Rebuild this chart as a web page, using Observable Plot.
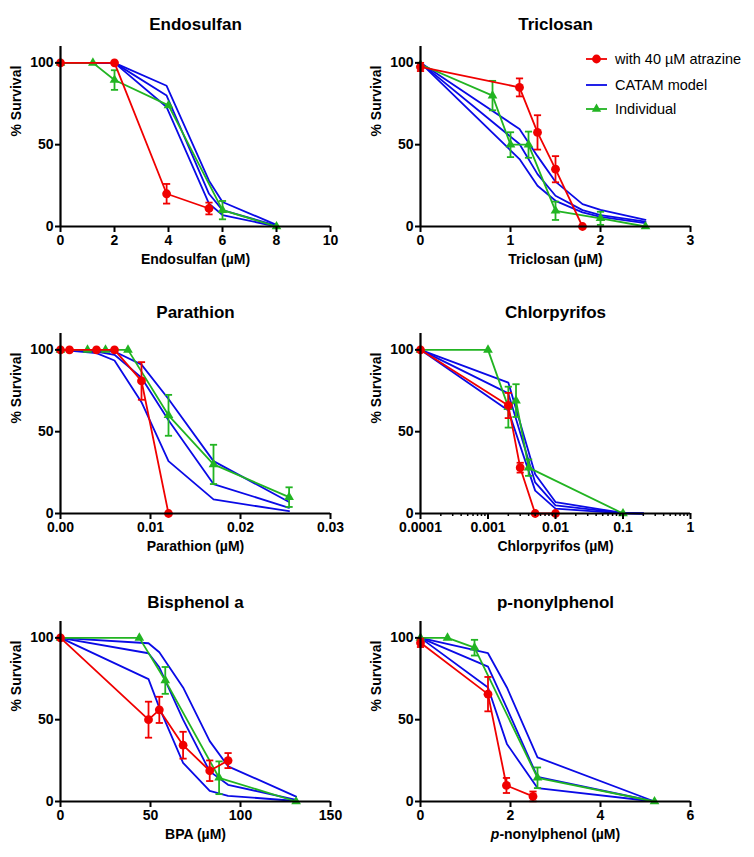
<!DOCTYPE html>
<html><head><meta charset="utf-8">
<script src="https://cdn.jsdelivr.net/npm/d3@7"></script>
<script src="https://cdn.jsdelivr.net/npm/@observablehq/plot@0.6"></script>
<style>
html,body{margin:0;padding:0;background:#fff;overflow:hidden;width:754px;height:857px;}
#root{position:relative;width:754px;height:857px;font-family:"Liberation Sans",Arial,sans-serif;}
.panel{position:absolute;}
</style></head><body><div id="root"></div>
<script>
// ---------- text & axes ----------
const titles = ["Endosulfan", "Triclosan", "Parathion", "Chlorpyrifos", "Bisphenol a", "p-nonylphenol"];
const xLabels = ["Endosulfan (µM)", "Triclosan (µM)", "Parathion (µM)", "Chlorpyrifos (µM)", "BPA (µM)", "p-nonylphenol (µM)"];
const yLabel = "% Survival";
const xDomains = [[0, 10], [0, 3], [0, 0.03], [0.0001, 1], [0, 150], [0, 6]];
const xTicks = [[0, 2, 4, 6, 8, 10], [0, 1, 2, 3], [0, 0.01, 0.02, 0.03], [0.0001, 0.001, 0.01, 0.1, 1], [0, 50, 100, 150], [0, 2, 4, 6]];
const xTickLabels = [["0", "2", "4", "6", "8", "10"], ["0", "1", "2", "3"], ["0.00", "0.01", "0.02", "0.03"], ["0.0001", "0.001", "0.01", "0.1", "1"], ["0", "50", "100", "150"], ["0", "2", "4", "6"]];
const yDomain = [0, 110];
const yTicks = [0, 50, 100];
const legendLabels = ["with 40 µM atrazine", "CATAM model", "Individual"];

// ---------- data: [concentration, % survival, error] ----------
const endosulfanAtrazine = [[0, 100, 0], [2, 100, 0], [3.93, 20, 6], [5.5, 11, 3.6]];
const endosulfanIndividual = [[0, 100, 0], [1.2, 100, 0], [2, 89.5, 6], [4, 74, 0], [6, 10, 5.6], [8, 0, 0]];
const endosulfanModelX = [0, 2, 3.93, 5.5, 6, 8];
const endosulfanModelY = [[100, 100, 86, 28, 15, 1], [100, 100, 80, 20, 10, 0.5], [100, 100, 73, 14, 7, 0]];

const triclosanAtrazine = [[0, 97.5, 2.5], [1.1, 85, 5.5], [1.3, 57.5, 10.5], [1.5, 35, 8], [1.8, 0, 0]];
const triclosanIndividual = [[0, 99, 0], [0.8, 80, 9], [1.0, 50, 7.6], [1.2, 50, 8], [1.5, 9.6, 5.6], [2, 5, 4], [2.5, 0, 0]];
const triclosanModelX = [0, 1.1, 1.3, 1.5, 1.8, 2, 2.5];
const triclosanModelY = [[100, 59.6, 43, 27.4, 13.7, 10.2, 4.1], [100, 50.4, 32, 18.8, 10, 7, 3], [100, 41.2, 24.9, 15.7, 8.6, 5.9, 2]];

const parathionAtrazine = [[0, 100, 0], [0.001, 100, 0], [0.004, 100, 0], [0.006, 100, 0], [0.009, 81, 11.5], [0.012, 0, 0]];
const parathionIndividual = [[0, 100, 0], [0.003, 100, 0], [0.005, 100, 0], [0.0075, 100, 0], [0.012, 60, 12.5], [0.017, 30, 12], [0.0254, 10, 6]];
const parathionModelX = [0, 0.004, 0.006, 0.009, 0.012, 0.017, 0.0254];
const parathionModelY = [[100, 99.5, 99, 91, 70, 32, 7], [100, 99, 97, 83, 57, 18, 3.5], [100, 98, 93.5, 68, 32, 8.6, 1.4]];

const chlorpyrifosAtrazine = [[0.0001, 100, 0], [0.002, 66, 7.7], [0.003, 28, 3], [0.005, 0, 0], [0.01, 0, 0]];
const chlorpyrifosIndividual = [[0.0001, 100, 0], [0.001, 100, 0], [0.002, 65, 12.5], [0.0026, 69, 10], [0.004, 28, 5], [0.1, 0, 0]];
const chlorpyrifosModelX = [0.0001, 0.002, 0.005, 0.01, 0.1, 0.2];
const chlorpyrifosModelY = [[100, 80, 24, 7, 0.3, 0], [100, 73.4, 19, 5, 0.2, 0], [100, 63, 14, 3, 0.1, 0]];

const bpaAtrazine = [[0, 100, 0], [48.9, 50, 11], [54.9, 56, 8], [68.1, 34.4, 8.2], [82.9, 18.8, 6.3], [93.1, 25, 4.6]];
const bpaIndividual = [[0, 100, 0], [43.8, 100, 0], [58.2, 74, 8.2], [88.1, 14.5, 10], [130.9, 0, 0]];
const bpaModelX = [0, 48.9, 54.9, 68.1, 82.9, 93.1, 130.9];
const bpaModelY = [[100, 96.7, 91.2, 69.7, 36.9, 21.5, 3], [100, 90.6, 82, 50, 18.4, 10.2, 1], [100, 74.8, 57.4, 23.6, 6.5, 3.5, 0.3]];

const nonylAtrazine = [[0, 97, 2.6], [1.5, 65.6, 10.5], [1.91, 9.8, 4.6], [2.5, 3.1, 3]];
const nonylIndividual = [[0, 100, 0], [0.6, 100, 0], [1.2, 94, 4.8], [2.6, 14.5, 6.3], [5.2, 0, 0]];
const nonylModelX = [0, 1.5, 1.92, 2.6, 5.2];
const nonylModelY = [[100, 90.6, 69.7, 27, 0], [100, 82.4, 57, 15, 0], [100, 69.7, 35.2, 8.2, 0]];

const atrazineSets = [endosulfanAtrazine, triclosanAtrazine, parathionAtrazine, chlorpyrifosAtrazine, bpaAtrazine, nonylAtrazine];
const individualSets = [endosulfanIndividual, triclosanIndividual, parathionIndividual, chlorpyrifosIndividual, bpaIndividual, nonylIndividual];
const modelXSets = [endosulfanModelX, triclosanModelX, parathionModelX, chlorpyrifosModelX, bpaModelX, nonylModelX];
const modelYSets = [endosulfanModelY, triclosanModelY, parathionModelY, chlorpyrifosModelY, bpaModelY, nonylModelY];

// ---------- styling ----------
const RED = "#f00000", BLUE = "#0a0ae6", GREEN = "#22b422";
const FONT = "Liberation Sans, Arial, Helvetica, sans-serif";
const rowTops = [0, 287, 575];
const titleDy = [-29, -28, -26];
const capSymbol = {draw(ctx) { ctx.moveTo(-3.6, 0); ctx.lineTo(3.6, 0); }};

function errorMarks(rows, color) {
  const withErr = rows.filter(d => d.e > 0);
  const caps = withErr.flatMap(d => [{x: d.x, y: d.y - d.e}, {x: d.x, y: d.y + d.e}]);
  return [
    Plot.link(withErr, {x1: "x", x2: "x", y1: d => d.y - d.e, y2: d => d.y + d.e, stroke: color, strokeWidth: 1.8}),
    Plot.dot(caps, {x: "x", y: "y", symbol: capSymbol, stroke: color, fill: "none", strokeWidth: 1.8})
  ];
}

const root = document.getElementById("root");

for (let i = 0; i < 6; i++) {
  const row = Math.floor(i / 2), col = i % 2;
  const isLog = i === 3;
  const red = atrazineSets[i].map(([x, y, e]) => ({x, y, e}));
  const green = individualSets[i].map(([x, y, e]) => ({x, y, e}));
  const blue = modelYSets[i].flatMap((ys, k) => ys.map((y, j) => ({x: modelXSets[i][j], y, k})));
  const labelMap = new Map(xTicks[i].map((t, j) => [t, xTickLabels[i][j]]));
  const minor = isLog ? [0.0001, 0.001, 0.01, 0.1].flatMap(b => [2, 3, 4, 5, 6, 7, 8, 9].map(m => +(b * m).toPrecision(3))) : [];
  const width = col ? 394 : 360;

  const plot = Plot.plot({
    width, height: 282,
    marginLeft: 60, marginRight: col ? 64 : 30, marginTop: 46, marginBottom: 56,
    style: {fontFamily: FONT, fontSize: "14px", color: "black", background: "transparent", overflow: "visible"},
    x: {type: isLog ? "log" : "linear", domain: xDomains[i]},
    y: {domain: yDomain},
    marks: [
      Plot.line(blue, {x: "x", y: "y", z: "k", stroke: BLUE, strokeWidth: 1.8}),
      ...errorMarks(green, GREEN),
      Plot.line(green, {x: "x", y: "y", stroke: GREEN, strokeWidth: 1.8}),
      Plot.dot(green, {x: "x", y: "y", symbol: "triangle", fill: GREEN, r: 3.6}),
      ...errorMarks(red, RED),
      Plot.line(red, {x: "x", y: "y", stroke: RED, strokeWidth: 1.8}),
      Plot.dot(red, {x: "x", y: "y", symbol: "circle", fill: RED, r: 4.4}),
      Plot.ruleY([yDomain[0]], {stroke: "black", strokeWidth: 2.2}),
      Plot.ruleX([xDomains[i][0]], {stroke: "black", strokeWidth: 2.2}),
      Plot.axisX({ticks: xTicks[i], tickFormat: d => labelMap.get(d), tickSize: 6, tickPadding: 3, fontSize: 14, fontWeight: "bold", strokeWidth: 2, label: null}),
      ...(isLog ? [Plot.axisX({ticks: minor, tickFormat: () => "", tickSize: 3, strokeWidth: 1.5, label: null})] : []),
      Plot.axisY({ticks: yTicks, tickSize: 5, tickPadding: 2, fontSize: 14, fontWeight: "bold", strokeWidth: 2, label: null}),
      Plot.text([titles[i]], {text: d => d, frameAnchor: "top", dy: titleDy[row], fontSize: 17, fontWeight: "bold"}),
      Plot.text([xLabels[i]], {text: d => d, frameAnchor: "bottom", dy: 37, fontSize: 14, fontWeight: "bold"}),
      Plot.text([yLabel], {text: d => d, frameAnchor: "left", dx: -44, rotate: -90, fontSize: 14, fontWeight: "bold"})
    ]
  });
  // italic "p" in p-nonylphenol axis label
  d3.select(plot).selectAll("text").filter(function() { return this.textContent === "p-nonylphenol (µM)"; })
    .each(function() {
      const t = d3.select(this);
      t.text(null);
      t.append("tspan").attr("font-style", "italic").text("p");
      t.append("tspan").text("-nonylphenol (µM)");
    });
  const holder = document.createElement("div");
  holder.className = "panel";
  holder.style.left = (col ? 360 : 0) + "px";
  holder.style.top = rowTops[row] + "px";
  holder.appendChild(plot);
  root.appendChild(holder);
}

// ---------- legend ----------
const legendColors = [RED, BLUE, GREEN];
const legendSymbols = [d3.symbolCircle, null, d3.symbolTriangle];
const legendSizes = [61, 0, 38];
const lg = d3.select(root).append("svg")
  .style("position", "absolute").style("left", "583px").style("top", "47px")
  .attr("width", 171).attr("height", 76)
  .style("font-family", FONT);
legendLabels.forEach((lab, j) => {
  const cy = [12, 38, 62][j];
  const g = lg.append("g");
  g.append("line").attr("x1", 3).attr("x2", 24).attr("y1", cy).attr("y2", cy)
    .attr("stroke", legendColors[j]).attr("stroke-width", 1.8);
  if (legendSymbols[j]) {
    g.append("path").attr("d", d3.symbol(legendSymbols[j], legendSizes[j])())
      .attr("transform", `translate(13.5,${cy})`).attr("fill", legendColors[j]);
  }
  g.append("text").attr("x", 32).attr("y", cy).attr("dy", "0.35em")
    .attr("font-size", "14.5px").text(lab);
});
</script>
</body></html>
